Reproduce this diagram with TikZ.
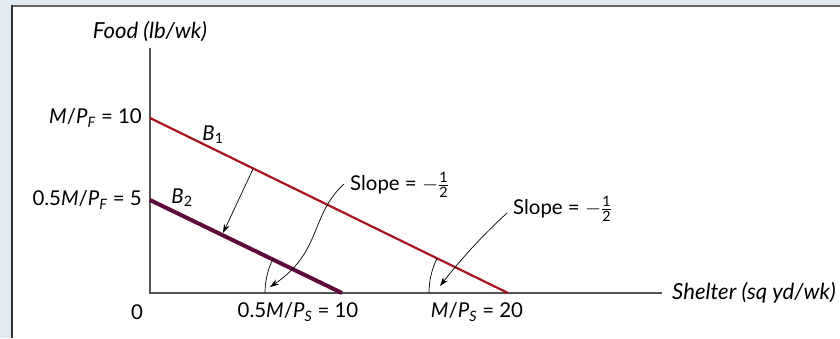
\documentclass[tikz,border=0pt]{standalone}
\usepackage{fontspec}
\setmainfont{Lato}
\usepackage{amsmath}
\usetikzlibrary{arrows.meta}
\definecolor{bgblue}{HTML}{E0EAF0}
\definecolor{axisgray}{HTML}{555555}
\definecolor{bonered}{HTML}{A8141E}
\definecolor{btwopurple}{HTML}{5E0A3C}
\newcommand{\vi}[1]{\textit{#1}}
\newcommand{\half}{\ensuremath{-\frac{\text{1}}{\text{2}}}}
\begin{document}
\begin{tikzpicture}[x=1bp,y=-1bp,
  lbl/.style={font=\fontsize{20.5}{24}\selectfont, inner sep=0pt},
  axtitle/.style={font=\fontsize{22.2}{26}\selectfont\itshape, inner sep=0pt},
  axisline/.style={draw=axisgray, line width=1.5bp},
  leader/.style={draw=black, line width=0.7bp, -{Stealth[length=9bp,width=6bp]}},
  anglearc/.style={draw=black, line width=0.7bp}]
\useasboundingbox (0,0) rectangle (840,338);
\fill[bgblue] (0,0) rectangle (840,338);
\fill[white] (11,5) rectangle (840,338);
\draw[line width=2bp, draw=black!60] (11,6) -- (840,6);
\draw[line width=1.5bp, draw=black!80] (11.75,5) -- (11.75,338);
% axes
\coordinate (O) at (150,293);
\coordinate (ytop) at (150,48);
\coordinate (xend) at (662,293);
\draw[axisline] (ytop) -- (O) -- (xend);
% budget lines
\coordinate (b1a) at (150,118);
\coordinate (b1b) at (508,293);
\coordinate (b2a) at (150,200);
\coordinate (b2b) at (342,293);
\draw[draw=bonered, line width=2.2bp] (b1a) -- (b1b);
\draw[draw=btwopurple, line width=4bp] (b2a) -- (b2b);
% angle arcs
\draw[anglearc] (265,293) arc[start angle=180, end angle=206, radius=77];
\draw[anglearc] (429,293) arc[start angle=180, end angle=206, radius=79];
% labels
\node[axtitle, anchor=center] (food) at (150,32) {Food (lb/wk)};
\node[lbl, anchor=east] (mpf) at (142,118) {\vi{M}/\vi{P}\textsubscript{\vi{F}} = 10};
\node[lbl, anchor=east] (hmpf) at (142,200) {0.5\vi{M}/\vi{P}\textsubscript{\vi{F}} = 5};
\node[lbl] (zero) at (137,312) {0};
\node[lbl] (hmps) at (298,312) {0.5\vi{M}/\vi{P}\textsubscript{\vi{S}} = 10};
\node[lbl] (mps) at (477,312) {\vi{M}/\vi{P}\textsubscript{\vi{S}} = 20};
\node[axtitle, anchor=west] (shelter) at (672,293) {Shelter (sq yd/wk)};
\node[lbl] (B1) at (213,135) {\vi{B}\textsubscript{1}};
\node[lbl] (B2) at (182,198) {\vi{B}\textsubscript{2}};
\node[lbl, anchor=west] (slope1) at (350,185) {Slope = \half};
\node[lbl, anchor=west] (slope2) at (513,209) {Slope = \half};
% shift arrow
\coordinate (s1) at (253,169);
\coordinate (s2) at (223,233);
\draw[leader] (s1) -- (s2);
% leaders
\coordinate (l1a) at (344,184);
\coordinate (l1b) at (270,287);
\draw[leader] (l1a) .. controls (310,215) and (322,252) .. (l1b);
\coordinate (l2a) at (507,213);
\coordinate (l2b) at (440,286);
\draw[leader] (l2a) .. controls (482,236) and (462,258) .. (l2b);
\end{tikzpicture}
\end{document}
